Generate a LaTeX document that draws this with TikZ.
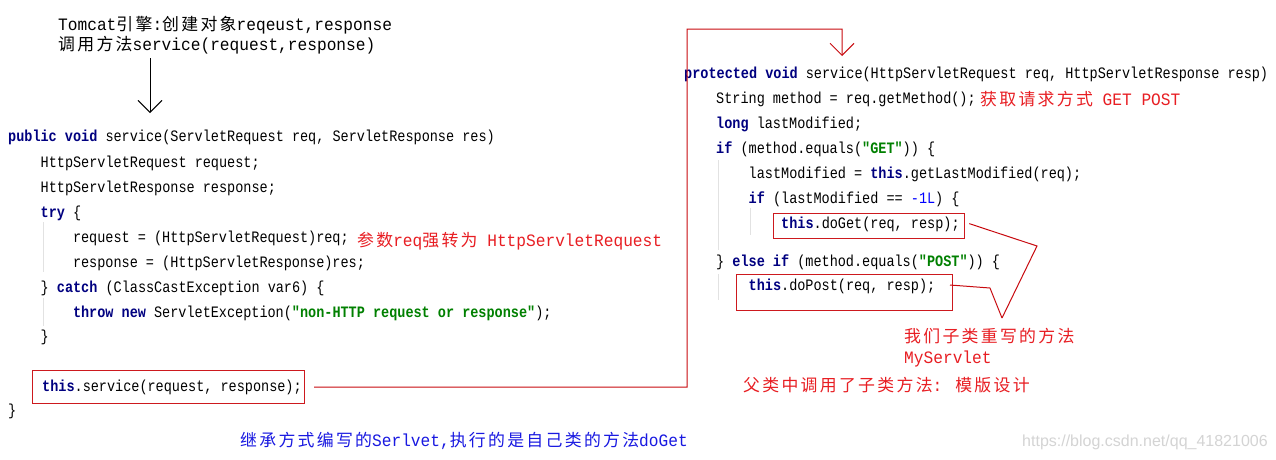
\documentclass[tikz,border=0pt]{standalone}
\usepackage{fontspec}
\usetikzlibrary{arrows.meta}
\newfontfamily\codefont[FakeStretch=0.85]{Liberation Mono}
\newfontfamily\annfont[FakeStretch=0.93]{Liberation Mono}
\newfontfamily\cjkfont[Scale=0.97,LetterSpace=13.6]{Noto Sans CJK SC}
\newfontfamily\wmfont{Liberation Sans}
\definecolor{kwc}{RGB}{0,0,128}
\definecolor{stc}{RGB}{0,128,0}
\definecolor{nmc}{RGB}{0,0,255}
\definecolor{redtxt}{RGB}{232,30,35}
\definecolor{bluetxt}{RGB}{25,25,225}
\definecolor{redframe}{RGB}{205,25,30}
\definecolor{redwire}{RGB}{200,10,15}
\definecolor{guidegray}{RGB}{226,226,226}
\definecolor{wmgray}{RGB}{212,212,212}
\newcommand\kw[1]{{\bfseries\color{kwc}#1}}
\newcommand\st[1]{{\bfseries\color{stc}#1}}
\newcommand\nm[1]{{\color{nmc}#1}}
\newcommand\cj[1]{{\cjkfont #1}}
\tikzset{
  codeline/.style={anchor=base west, inner sep=0pt, font=\fontsize{15.9}{18}\selectfont\codefont},
  annot/.style={anchor=base west, inner sep=0pt, font=\fontsize{17.4}{20}\selectfont\annfont},
  redannot/.style={annot, text=redtxt},
  blueannot/.style={annot, text=bluetxt},
  boxframe/.style={draw=redframe, line width=1.2pt, anchor=north west, inner sep=0pt},
  wire/.style={draw=redwire, line width=1pt},
  guideline/.style={draw=guidegray, line width=0.8pt},
  vbarb/.style={-{Straight Barb[length=12pt,width=24pt]}}
}
\begin{document}
\begin{tikzpicture}[x=1pt,y=-1pt]
\useasboundingbox (0,0) rectangle (1276,459);
\fill[white] (0,0) rectangle (1276,459);

% Tomcat note
\node[annot] (tc1) at (58,30) {Tomcat\cj{引擎}:\cj{创建对象}reqeust,response};
\node[annot] (tc2) at (58,50) {\cj{调用方法}service(request,response)};

% left code
\node[codeline] (l1) at (8,141) {\kw{public} \kw{void} service(ServletRequest req, ServletResponse res)};
\node[codeline] (l2) at (40.5,167) {HttpServletRequest request;};
\node[codeline] (l3) at (40.5,192) {HttpServletResponse response;};
\node[codeline] (l4) at (40.5,217) {\kw{try} \{};
\node[codeline] (l5) at (72.8,242) {request = (HttpServletRequest)req;};
\node[codeline] (l6) at (72.8,267) {response = (HttpServletResponse)res;};
\node[codeline] (l7) at (40.5,292) {\} \kw{catch} (ClassCastException var6) \{};
\node[codeline] (l8) at (72.8,317) {\kw{throw} \kw{new} ServletException(\st{"non-HTTP request or response"});};
\node[codeline] (l9) at (40.5,341.5) {\}};
\node[codeline] (l10) at (42,391.5) {\kw{this}.service(request, response);};
\node[codeline] (l11) at (8,415) {\}};
\node[boxframe, minimum width=272pt, minimum height=33pt] (sbox) at (32,370) {};

\draw[guideline] (43,222) -- (43,272);
\draw[guideline] (43,298) -- (43,326);

\node[redannot] (a1) at (357,246) {\cj{参数}req\cj{强转为} HttpServletRequest};

% right code
\node[codeline] (r1) at (684,78.5) {\kw{protected} \kw{void} service(HttpServletRequest req, HttpServletResponse resp)};
\node[codeline] (r2) at (716,103.5) {String method = req.getMethod();};
\node[codeline] (r3) at (716,128.5) {\kw{long} lastModified;};
\node[codeline] (r4) at (716,153.5) {\kw{if} (method.equals(\st{"GET"})) \{};
\node[codeline] (r5) at (748.5,178.5) {lastModified = \kw{this}.getLastModified(req);};
\node[codeline] (r6) at (748.5,203) {\kw{if} (lastModified == \nm{-1L}) \{};
\node[codeline] (r7) at (781,228.5) {\kw{this}.doGet(req, resp);};
\node[codeline] (r8) at (716,266) {\} \kw{else} \kw{if} (method.equals(\st{"POST"})) \{};
\node[codeline] (r9) at (748.5,290.5) {\kw{this}.doPost(req, resp);};
\node[boxframe, minimum width=191pt, minimum height=25pt] (gbox) at (773,213) {};
\node[boxframe, minimum width=216pt, minimum height=36pt] (pbox) at (736,274) {};

\draw[guideline] (718,160) -- (718,250);
\draw[guideline] (750,208) -- (750,235);
\draw[guideline] (718,274) -- (718,300);

\node[redannot] (a2) at (980,105) {\cj{获取请求方式} GET POST};
\node[redannot] (a3) at (904,342) {\cj{我们子类重写的方法}};
\node[redannot] (a4) at (904,363) {MyServlet};
\node[redannot] (a5) at (743,391) {\cj{父类中调用了子类方法}: \cj{模版设计}};
\node[blueannot] (a6) at (240,446) {\cj{继承方式编写的}Serlvet,\cj{执行的是自己类的方法}doGet};
\node[anchor=base west, inner sep=0pt, font=\fontsize{16}{19}\selectfont\wmfont, text=wmgray] (wm) at (1022,446) {https://blog.csdn.net/qq\_41821006};

% black arrow
\coordinate (ka) at (150,58);
\coordinate (kb) at (150,113);
\draw[line width=0.9pt, vbarb] (ka) -- (kb);

% red connector from this.service to protected service
\coordinate (c1) at (687,387);
\coordinate (c2) at (842,29);
\coordinate (c3) at (842,56);
\draw[wire, vbarb] ([xshift=9pt]sbox.east) -- (c1) |- (c2) -- (c3);

% red lines to the annotation
\coordinate (gb) at (1037,246);
\coordinate (pb) at (990,288);
\coordinate (tipm) at (1002,318);
\coordinate (ps) at (950,285);
\draw[wire] ([xshift=4pt,yshift=2.5pt]gbox.east) -- (gb) -- (tipm);
\draw[wire] (ps) -- (pb) -- (tipm);
\end{tikzpicture}
\end{document}
